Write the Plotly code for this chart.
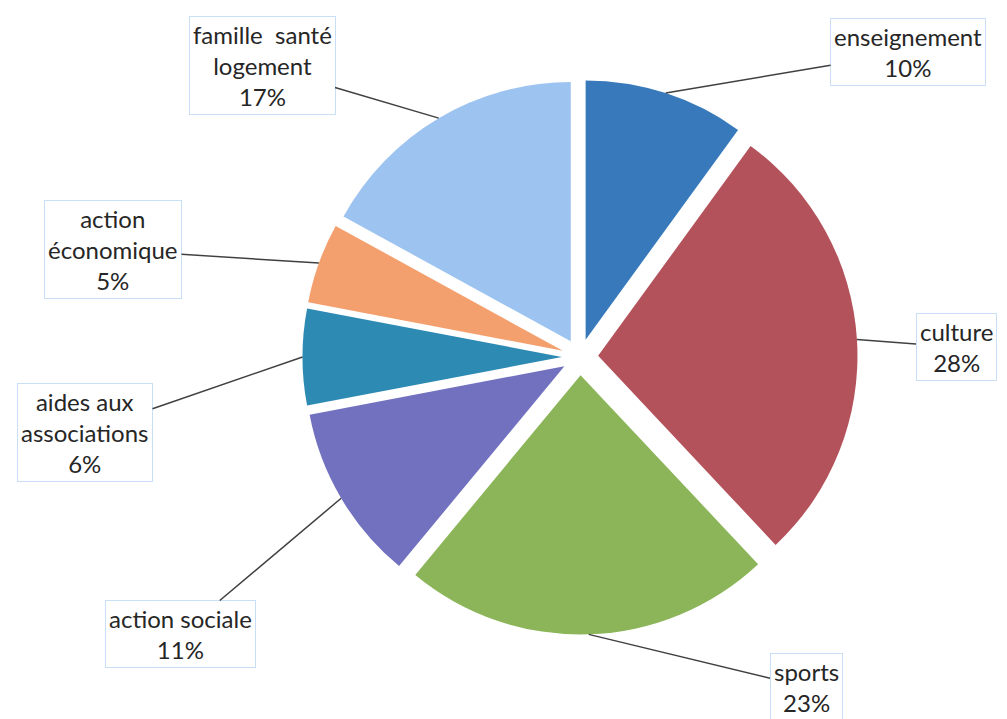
import math
import plotly.graph_objects as go

categories = ["enseignement", "culture", "sports", "action sociale",
              "aides aux associations", "action économique", "famille santé logement"]
display_labels = ["enseignement", "culture", "sports", "action sociale",
                  "aides aux<br>associations", "action<br>économique", "famille  santé<br>logement"]
values = [10, 28, 23, 11, 6, 5, 17]
colors = ["#3779ba", "#b3525b", "#8cb55a", "#7171c0", "#2d8ab3", "#f4a06e", "#9dc3f0"]

# the page places the figure 8px from the top-left corner; compensate
OFF = 8
W, H = 1007 - OFF, 719 - OFF
PULL = 0.07
# pie domain in window pixels
x0, x1 = 302.5, 857.5
yt, yb = 79.5, 634.5


def px2paper(x, y):
    return (x - OFF) / W, 1 - (y - OFF) / H


dx0, dy1 = px2paper(x0, yt)
dx1, dy0 = px2paper(x1, yb)

fig = go.Figure(go.Pie(
    labels=categories, values=values, sort=False, direction="clockwise",
    rotation=0, pull=[PULL] * len(values), textinfo="none", hoverinfo="label+percent",
    marker=dict(colors=colors, line=dict(width=0)),
    domain=dict(x=[dx0, dx1], y=[dy0, dy1]),
    showlegend=False,
))

cx, cy = (x0 + x1) / 2, (yt + yb) / 2
r = (x1 - x0) / (2 + 2 * PULL)
rr = r * (1 + PULL)

# label text centers (window pixels)
text_pos = [(908, 52), (956, 347), (806, 687), (180, 634), (85, 432), (113, 250), (262, 66)]

total = sum(values)
cum = 0
annotations = []
for lab, v, (tx, ty) in zip(display_labels, values, text_pos):
    mid = (cum + v / 2) / total * 2 * math.pi
    cum += v
    px = cx + rr * math.sin(mid)
    py = cy - rr * math.cos(mid)
    pct = round(v / total * 100)
    ax_, ay_ = px2paper(px, py)
    annotations.append(dict(
        x=ax_, y=ay_, xref="paper", yref="paper",
        ax=tx - px, ay=ty - py, axref="pixel", ayref="pixel",
        text=f"{lab}<br>{pct}%", showarrow=True, arrowhead=0, arrowwidth=1.5,
        arrowcolor="#404040", font=dict(family="Lato", size=24, color="#262626"),
        bgcolor="white", bordercolor="#c9dff5", borderwidth=1, borderpad=3,
        align="center",
    ))

fig.update_layout(
    width=W, height=H, margin=dict(l=0, r=0, t=0, b=0),
    paper_bgcolor="white", plot_bgcolor="white",
    annotations=annotations,
)
fig.write_html("out.html")
